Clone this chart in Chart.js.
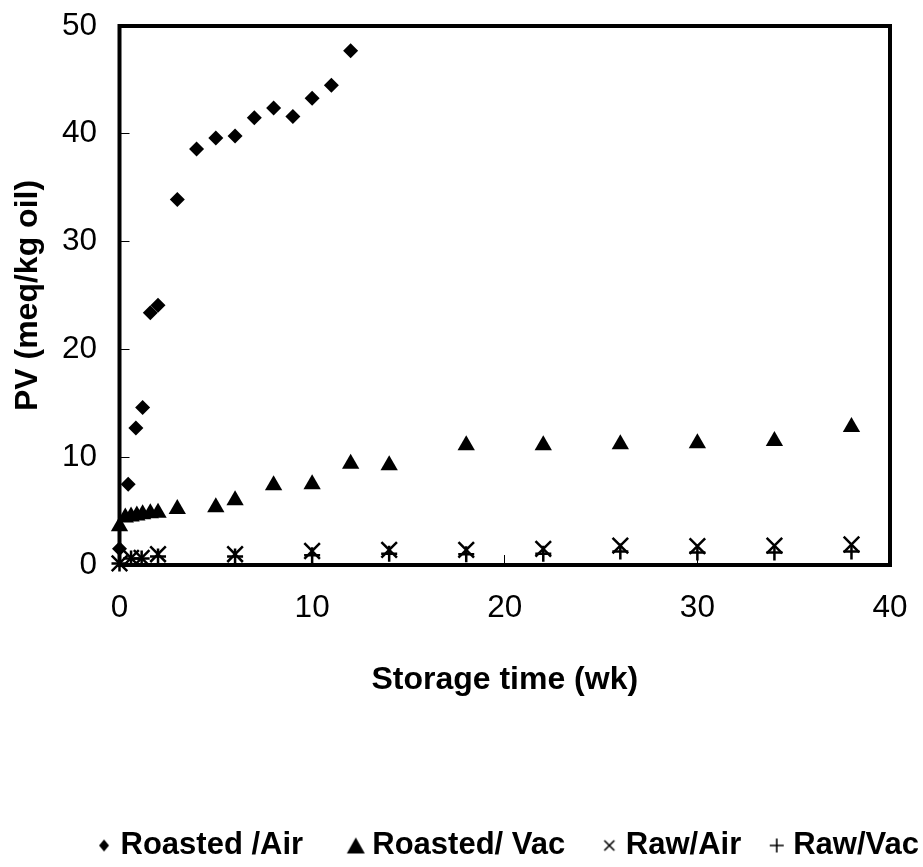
<!DOCTYPE html>
<html>
<head>
<meta charset="utf-8">
<script src="https://cdn.jsdelivr.net/npm/chart.js@4"></script>
<style>
  html, body { margin: 0; padding: 0; background: #fff; overflow: hidden; }
  #wrap { width: 923px; height: 867px; }
</style>
</head>
<body>
<div id="wrap"><canvas id="pv"></canvas></div>
<script>
// Peroxide value (meq/kg oil) against storage time (weeks)
const roastedAirWeeks = [0, 0.45, 0.85, 1.2, 1.6, 2, 3, 4, 5, 6, 7, 8, 9, 10, 11, 12];
const roastedAirPV    = [1.5, 7.5, 12.7, 14.6, 23.4, 24.1, 33.9, 38.6, 39.6, 39.8, 41.5, 42.4, 41.6, 43.3, 44.5, 47.7];

const roastedVacWeeks = [0, 0.3, 0.6, 0.9, 1.2, 1.6, 2, 3, 5, 6, 8, 10, 12, 14, 18, 22, 26, 30, 34, 38];
const roastedVacPV    = [3.6, 4.4, 4.5, 4.6, 4.7, 4.8, 4.85, 5.2, 5.35, 6.0, 7.4, 7.5, 9.4, 9.25, 11.1, 11.1, 11.2, 11.3, 11.5, 12.8];

const rawAirWeeks = [0, 0.6, 1.15, 2, 6, 10, 14, 18, 22, 26, 30, 34, 38];
const rawAirPV    = [0.15, 0.65, 0.65, 1.0, 1.0, 1.3, 1.4, 1.4, 1.5, 1.8, 1.75, 1.8, 1.9];

const rawVacWeeks = [0, 0.6, 1.15, 2, 6, 10, 14, 18, 22, 26, 30, 34, 38];
const rawVacPV    = [0.15, 0.6, 0.6, 0.8, 0.8, 0.9, 1.05, 1.0, 1.05, 1.25, 1.15, 1.15, 1.25];

const xTicks = [0, 10, 20, 30, 40];
const yTicks = [0, 10, 20, 30, 40, 50];

const seriesNames = ['Roasted /Air', 'Roasted/ Vac', 'Raw/Air', 'Raw/Vac'];
// blank space after each legend entry, separating it from the next one
const legendTrail = ['      ', '     ', '    ', ''];

function pairs(xs, ys) {
  return xs.map((x, i) => ({ x: x, y: ys[i] }));
}

const FONT = "'Liberation Sans', Arial, Helvetica, sans-serif";
Chart.defaults.font.family = FONT;
Chart.defaults.color = '#000';

// small legend symbols, each drawn on its own canvas
function legendIcon(kind) {
  const c = document.createElement('canvas');
  c.width = 20; c.height = 20;
  const g = c.getContext('2d');
  g.fillStyle = '#000'; g.strokeStyle = '#000';
  const m = 10;
  g.beginPath();
  if (kind === 'diamond') {
    g.moveTo(m, m - 6); g.lineTo(m + 5, m); g.lineTo(m, m + 6); g.lineTo(m - 5, m); g.closePath(); g.fill();
  } else if (kind === 'triangle') {
    g.moveTo(m, m - 8); g.lineTo(m + 9, m + 8); g.lineTo(m - 9, m + 8); g.closePath(); g.fill();
  } else if (kind === 'x') {
    g.lineWidth = 1.6;
    g.moveTo(m - 5, m - 5); g.lineTo(m + 5, m + 5); g.moveTo(m + 5, m - 5); g.lineTo(m - 5, m + 5); g.stroke();
  } else {
    g.lineWidth = 1.6;
    g.moveTo(m - 7, m); g.lineTo(m + 7, m); g.moveTo(m, m - 7); g.lineTo(m, m + 7); g.stroke();
  }
  return c;
}
const legendIcons = [legendIcon('diamond'), legendIcon('triangle'), legendIcon('x'), legendIcon('plus')];

// heavy frame around the plotting area
const plotFrame = {
  id: 'plotFrame',
  beforeDatasetsDraw(chart) {
    const { ctx, chartArea: a } = chart;
    ctx.save();
    ctx.lineWidth = 4;
    ctx.strokeStyle = '#000';
    ctx.strokeRect(a.left, a.top, a.right - a.left, a.bottom - a.top);
    ctx.restore();
  }
};

// nudge the legend row a few pixels towards the bottom edge
const legendNudge = {
  id: 'legendNudge',
  afterLayout(chart) {
    const lg = chart.legend;
    if (lg) { lg.top += 4; lg.bottom += 4; }
  }
};

new Chart(document.getElementById('pv'), {
  type: 'scatter',
  data: {
    datasets: [
      {
        label: seriesNames[0],
        data: pairs(roastedAirWeeks, roastedAirPV),
        pointStyle: 'rectRot',
        pointRadius: 7.5,
        backgroundColor: '#000',
        borderColor: '#000',
        borderWidth: 0
      },
      {
        label: seriesNames[1],
        data: pairs(roastedVacWeeks, roastedVacPV),
        pointStyle: 'triangle',
        pointRadius: 10,
        backgroundColor: '#000',
        borderColor: '#000',
        borderWidth: 0
      },
      {
        label: seriesNames[2],
        data: pairs(rawAirWeeks, rawAirPV),
        pointStyle: 'crossRot',
        pointRadius: 11,
        backgroundColor: '#000',
        borderColor: '#000',
        borderWidth: 2.5
      },
      {
        label: seriesNames[3],
        data: pairs(rawVacWeeks, rawVacPV),
        pointStyle: 'cross',
        pointRadius: 8,
        backgroundColor: '#000',
        borderColor: '#000',
        borderWidth: 2.5
      }
    ]
  },
  options: {
    responsive: true,
    maintainAspectRatio: false,
    animation: false,
    devicePixelRatio: 1,
    clip: false,
    layout: { padding: { top: 0, left: 0, right: 4, bottom: 0 } },
    plugins: {
      tooltip: { enabled: false },
      legend: {
        position: 'bottom',
        align: 'end',
        labels: {
          usePointStyle: true,
          boxWidth: 2,
          boxHeight: 12,
          padding: 0,
          color: '#000',
          font: { family: FONT, size: 31, weight: 'bold' },
          generateLabels(chart) {
            const items = Chart.defaults.plugins.legend.labels.generateLabels(chart);
            return items.map((it, i) => Object.assign(it, {
              text: seriesNames[i] + legendTrail[i],
              pointStyle: legendIcons[i]
            }));
          }
        }
      }
    },
    scales: {
      x: {
        type: 'linear',
        min: 0,
        max: 40,
        afterBuildTicks: (s) => { s.ticks = xTicks.map(v => ({ value: v })); },
        afterFit: (s) => { s.height = 261; s.paddingLeft = 0; s.paddingRight = 33; },
        ticks: { padding: 34, color: '#000', font: { size: 31.5 } },
        grid: { drawOnChartArea: false, drawTicks: true, tickLength: -10, color: '#000', lineWidth: 1 },
        border: { display: false },
        title: {
          display: true,
          text: 'Storage time (wk)',
          color: '#000',
          font: { size: 32, weight: 'bold' },
          padding: { top: 30, bottom: 127 }
        }
      },
      y: {
        type: 'linear',
        min: 0,
        max: 50,
        afterBuildTicks: (s) => { s.ticks = yTicks.map(v => ({ value: v })); },
        afterFit: (s) => { s.width = 119.5; s.paddingTop = 26; s.paddingBottom = 0; },
        ticks: { padding: 32.5, color: '#000', font: { size: 31.5 } },
        grid: { drawOnChartArea: false, drawTicks: true, tickLength: -10, color: '#000', lineWidth: 1 },
        border: { display: false },
        title: {
          display: true,
          text: 'PV (meq/kg oil)',
          color: '#000',
          font: { size: 32, weight: 'bold' },
          padding: { top: 9, bottom: 16 }
        }
      }
    }
  },
  plugins: [plotFrame, legendNudge]
});
</script>
</body>
</html>
